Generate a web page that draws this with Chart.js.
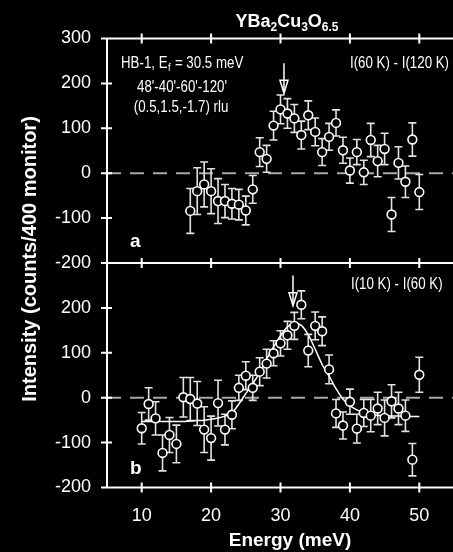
<!DOCTYPE html>
<html><head><meta charset="utf-8">
<style>html,body{margin:0;padding:0;background:#000;overflow:hidden;width:453px;height:552px}
canvas{display:block}</style>
<script src="https://cdn.jsdelivr.net/npm/chart.js@4"></script>
</head><body><canvas id="c" width="460" height="552"></canvas>
<script>
// ---------- data ----------
const energyA = [17,18,19,20,21,22,23,24,25,26,27,28,29,30,31,32,33,34,35,36,37,38,39,40,41,42,43,44,45,46,47,48,49,50];
const intensityA = [-84,-40,-25,-40,-62,-62,-68,-70,-83,-36,47,32,106,142,133,122,85,129,92,47,81,112,51,6,47,2,74,27,54,-92,23,-19,75,-42];
const errorA = [50,52,50,50,50,37,34,34,32,31,32,30,32,32,33,31,31,32,31,30,30,29,29,28,28,27,37,35,35,38,36,35,37,39];

const energyB = [10,11,12,13,14,15,16,17,18,19,20,21,22,23,24,25,26,27,28,29,30,31,32,33,34,35,36,37,38,39,40,41,42,43,44,45,46,47,48,49,50];
const intensityB = [-68,-14,-46,-123,-83,-103,1,-3,-13,-71,-90,-12,-71,-38,22,49,22,58,76,99,121,139,160,207,105,160,148,63,-35,-62,-9,-69,-34,-40,-24,-45,-8,-24,-40,-138,51];
const errorB = [35,36,37,40,39,42,44,48,49,51,49,51,34,31,28,31,28,31,32,28,28,31,30,31,36,31,32,32,31,30,28,32,30,36,36,40,37,36,35,36,39];

const fitEnergy = [10,11,12,13,14,15,16,17,18,19,20,21,22,23,24,25,26,27,28,29,30,31,32,33,34,35,36,37,38,39,40,41,42,43,44,45,46,47,48,49,50];
const fitIntensity = [-53,-53,-53,-53,-53,-53,-53,-52,-51,-50,-48,-45,-41,-34,-14,9,31,56,86,113,138,158,166,161,140,108,74,48,20,-3,-18,-27,-33,-37,-39,-40,-41,-41,-42,-42,-42];

const xTickValues = [10,20,30,40,50];
const yTickValuesA = [-200,-100,0,100,200,300];
const yTickValuesB = [-200,-100,0,100,200];
const arrowEnergyA = 30.5;
const arrowEnergyB = 31.8;

const FAMILY = '"Liberation Sans", Arial, sans-serif';
const tickFont = {family:FAMILY, size:18, weight:'normal'};
function css(size, weight){ return (weight||'normal')+' '+size+'px '+FAMILY; }
const pts = (E,V)=>E.map((e,i)=>({x:e,y:V[i]}));

// draw text stretched vertically (the figure's lettering is tall and narrow)
function tallText(ctx, text, x, y, size, align, k){
  ctx.save();
  ctx.font = css(size);
  ctx.textAlign = align || 'left';
  ctx.translate(x, y); ctx.scale(1, k || 1.22);
  ctx.fillText(text, 0, 0);
  const w = ctx.measureText(text).width;
  ctx.restore();
  return w;
}

const decor = {
  id:'decor',
  beforeDatasetsDraw(chart){
    const {ctx, chartArea:ca, scales} = chart;
    const x=scales.x, ya=scales.ya, yb=scales.yb;
    ctx.save();
    ctx.strokeStyle='#a9a9a9'; ctx.lineWidth=2; ctx.setLineDash([14,9]);
    [ya,yb].forEach(s=>{ const y=s.getPixelForValue(0); ctx.beginPath(); ctx.moveTo(ca.left,y); ctx.lineTo(ca.right,y); ctx.stroke(); });
    ctx.setLineDash([]);
    ctx.strokeStyle='#e2e2e2'; ctx.lineWidth=1.6;
    [[energyA,intensityA,errorA,ya],[energyB,intensityB,errorB,yb]].forEach(([E,V,Er,s])=>{
      E.forEach((e,i)=>{
        const px=x.getPixelForValue(e);
        const y1=s.getPixelForValue(V[i]+Er[i]), y2=s.getPixelForValue(V[i]-Er[i]);
        ctx.beginPath();
        ctx.moveTo(px,y1); ctx.lineTo(px,y2);
        ctx.moveTo(px-4,y1); ctx.lineTo(px+4,y1);
        ctx.moveTo(px-4,y2); ctx.lineTo(px+4,y2);
        ctx.stroke();
      });
    });
    ctx.restore();
  },
  afterDraw(chart){
    const {ctx, chartArea:ca, scales} = chart;
    const x=scales.x, ya=scales.ya, yb=scales.yb;
    ctx.save();
    ctx.strokeStyle='#fff'; ctx.lineWidth=2;
    const left=ca.left, right=ca.right;
    const yTop=ya.getPixelForValue(300), yMid=ya.getPixelForValue(-200), yBot=yb.getPixelForValue(-200);
    ctx.beginPath();
    ctx.moveTo(left,yTop-1); ctx.lineTo(left,yBot+1);
    [yTop,yMid,yBot].forEach(y=>{ ctx.moveTo(left,y); ctx.lineTo(right,y); });
    [yTop,yMid,yBot].forEach(y=>{ xTickValues.forEach(v=>{ const px=x.getPixelForValue(v); ctx.moveTo(px,y-5); ctx.lineTo(px,y+5); }); });
    yTickValuesA.forEach(v=>{ const py=ya.getPixelForValue(v); ctx.moveTo(left-6,py); ctx.lineTo(left+5,py); });
    yTickValuesB.forEach(v=>{ const py=yb.getPixelForValue(v); ctx.moveTo(left-6,py); ctx.lineTo(left+5,py); });
    ctx.stroke();

    // arrows
    ctx.lineWidth=1.5;
    [[arrowEnergyA,ya,245,178],[arrowEnergyB,yb,272,205]].forEach(([e,s,v1,v2])=>{
      const px=x.getPixelForValue(e), t=s.getPixelForValue(v1), b=s.getPixelForValue(v2);
      ctx.beginPath(); ctx.moveTo(px,t); ctx.lineTo(px,b); ctx.stroke();
      ctx.beginPath(); ctx.moveTo(px-4,b-13); ctx.lineTo(px,b); ctx.lineTo(px+4,b-13); ctx.closePath(); ctx.stroke();
    });

    // texts
    ctx.fillStyle='#fff';
    ctx.textBaseline='alphabetic';
    // title with subscripts
    const parts=[['YBa',18,0],['2',12,4],['Cu',18,0],['3',12,4],['O',18,0],['6.5',12,4]];
    let tw=0; parts.forEach(p=>{ctx.font=css(p[1],'bold'); tw+=ctx.measureText(p[0]).width;});
    let tx=287-tw/2; ctx.textAlign='left';
    parts.forEach(p=>{ctx.font=css(p[1],'bold'); ctx.fillText(p[0],tx,27+p[2]); tx+=ctx.measureText(p[0]).width;});

    const AS=13.3;
    let hx=121;
    hx += tallText(ctx,'HB-1, E',hx,68,AS);
    hx += tallText(ctx,'f',hx+0.5,71,9.5)+1;
    tallText(ctx,' = 30.5 meV',hx,68,AS);
    tallText(ctx,"48'-40'-60'-120'",182,91.5,AS,'center');
    tallText(ctx,'(0.5,1.5,-1.7) rlu',181,112,AS,'center');
    tallText(ctx,'I(60 K) - I(120 K)',350,68,AS);
    tallText(ctx,'I(10 K) - I(60 K)',351,289,AS);

    ctx.font=css(19,'bold'); ctx.textAlign='left';
    ctx.fillText('a',130,247);
    ctx.fillText('b',130,473.5);

    ctx.font=css(19,'bold');
    ctx.textAlign='center';
    ctx.fillText('Energy (meV)',290,545.5);

    ctx.save();
    ctx.translate(30,259); ctx.rotate(-Math.PI/2);
    ctx.font=css(20,'bold');
    ctx.textBaseline='middle';
    ctx.fillText('Intensity (counts/400 monitor)',0,0);
    ctx.restore();
    ctx.restore();
  }
};

const yCommon = (ticksList)=>({
  type:'linear', position:'left', stack:'v', stackWeight:1, min:-200, max:300,
  afterBuildTicks: s=>{ s.ticks = ticksList.map(v=>({value:v})); },
  afterFit: s=>{ s.width=107; },
  grid:{display:false, drawTicks:false}, border:{display:false},
  ticks:{color:'#fff', font:tickFont, padding:16, autoSkip:false}
});

new Chart(document.getElementById('c'), {
  type:'scatter',
  data:{ datasets:[
    { label:'I(60 K) - I(120 K)', data:pts(energyA,intensityA), yAxisID:'ya', pointRadius:4.4, pointBorderWidth:1.6,
      pointBorderColor:'#fff', pointBackgroundColor:'#000', order:0 },
    { label:'I(10 K) - I(60 K)', data:pts(energyB,intensityB), yAxisID:'yb', pointRadius:4.4, pointBorderWidth:1.6,
      pointBorderColor:'#fff', pointBackgroundColor:'#000', order:0 },
    { label:'fit', type:'line', data:pts(fitEnergy,fitIntensity), yAxisID:'yb', showLine:true, borderColor:'#fff',
      borderWidth:1.5, pointRadius:0, cubicInterpolationMode:'monotone', fill:false, order:1 }
  ]},
  options:{
    responsive:false, animation:false, devicePixelRatio:1,
    layout:{padding:{top:38.5,right:4.5,left:0,bottom:0}},
    plugins:{legend:{display:false}, tooltip:{enabled:false}, title:{display:false}},
    scales:{
      x:{ type:'linear', position:'bottom', min:5, max:55,
        afterBuildTicks: s=>{ s.ticks = xTickValues.map(v=>({value:v})); },
        afterFit: s=>{ s.height=64.5; },
        grid:{display:false, drawTicks:false}, border:{display:false},
        ticks:{color:'#fff', font:tickFont, padding:18, autoSkip:false, maxRotation:0} },
      yb: yCommon(yTickValuesB),
      ya: yCommon(yTickValuesA)
    }
  },
  plugins:[decor]
});
</script></body></html>
